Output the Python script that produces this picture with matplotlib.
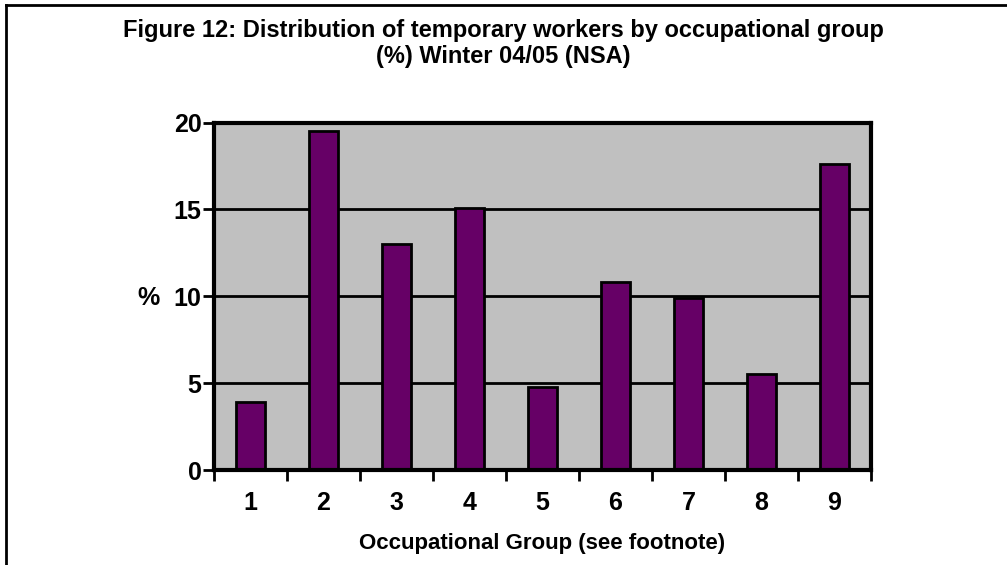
import numpy as np
import matplotlib
matplotlib.use("Agg")
import matplotlib.pyplot as plt
from matplotlib.lines import Line2D

# occupational groups and share of temporary workers (%)
groups = ["1", "2", "3", "4", "5", "6", "7", "8", "9"]
shares = [3.9, 19.5, 13.0, 15.1, 4.8, 10.8, 9.9, 5.5, 17.6]
yticks = [0, 5, 10, 15, 20]

plt.rcParams['font.family'] = ['Liberation Sans', 'DejaVu Sans']
plt.rcParams['font.weight'] = 'bold'

W, H = 1007, 565
fig = plt.figure(figsize=(W/100, H/100), dpi=100)
ax = fig.add_axes([214/W, 1-470/H, (871-214)/W, (470-122.5)/H])

x = np.arange(len(groups))
ax.set_facecolor('#c0c0c0')
ax.bar(x, shares, width=0.41, color='#660066', edgecolor='black', linewidth=2, zorder=3)

ax.set_xlim(-0.5, len(groups) - 0.5)
ax.set_ylim(0, 20)
ax.set_yticks(yticks)
ax.set_yticklabels([str(v) for v in yticks], fontsize=18, fontweight='bold')
for v in yticks[1:-1]:
    ax.axhline(v, color='black', linewidth=2, zorder=1)

# ticks sit on the category boundaries, labels in the middle
ax.set_xticks(np.arange(len(groups) + 1) - 0.5)
ax.set_xticklabels([])
ax.set_xticks(x, minor=True)
ax.set_xticklabels(groups, minor=True, fontsize=18, fontweight='bold')
ax.tick_params(axis='x', which='minor', length=0, pad=15)
ax.tick_params(axis='x', which='major', direction='out', length=8, width=2)
ax.tick_params(axis='y', direction='out', length=8, width=2, pad=1)

for s in ax.spines.values():
    s.set_linewidth(3)
    s.set_zorder(4)

ax.set_xlabel("Occupational Group (see footnote)", fontsize=16, fontweight='bold', labelpad=13)
fig.text(148/W, 1-298/H, "%", fontsize=18, fontweight='bold', ha='center', va='center')

fig.text(0.5, 1-37/H, "Figure 12: Distribution of temporary workers by occupational group",
         fontsize=17, fontweight='bold', ha='center', va='baseline')
fig.text(0.5, 1-63/H, "(%) Winter 04/05 (NSA)",
         fontsize=17, fontweight='bold', ha='center', va='baseline')

# chart frame (only left and top edges visible)
fig.add_artist(Line2D([6/W, 6/W], [0, 1-5/H], color='black', linewidth=2, transform=fig.transFigure))
fig.add_artist(Line2D([6/W, 1], [1-5/H, 1-5/H], color='black', linewidth=2, transform=fig.transFigure))

fig.savefig("out.png", dpi=100)
